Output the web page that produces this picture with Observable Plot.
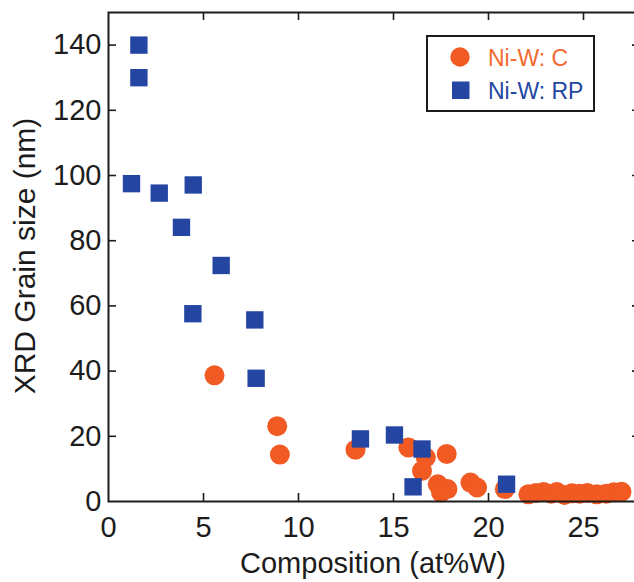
<!DOCTYPE html>
<html>
<head>
<meta charset="utf-8">
<script src="https://cdn.jsdelivr.net/npm/d3@7"></script>
<script src="https://cdn.jsdelivr.net/npm/@observablehq/plot@0.6"></script>
<style>
  html, body { margin: 0; padding: 0; background: #fff; }
  #chart svg { display: block; }
</style>
</head>
<body>
<div id="chart"></div>
<script>
// Series "Ni-W: C" (orange circles)
const cX = [5.58, 8.88, 9.02, 13.0, 15.78, 16.7, 16.5, 17.8, 17.33, 17.84, 17.5, 19.05, 19.4, 20.86, 22.1, 22.5, 22.9, 23.3, 23.6, 24.0, 24.4, 24.8, 25.2, 25.7, 26.2, 26.6, 27.0];
const cY = [38.7, 23.1, 14.4, 15.9, 16.6, 13.5, 9.4, 14.6, 5.3, 3.8, 2.8, 5.8, 4.3, 3.8, 2.2, 2.6, 2.9, 2.4, 2.9, 2.0, 2.5, 2.4, 2.6, 2.2, 2.4, 2.8, 3.0];
// Series "Ni-W: RP" (blue squares)
const rpX = [1.6, 1.6, 1.21, 2.67, 4.46, 3.84, 5.93, 4.44, 7.7, 7.77, 13.26, 15.05, 16.5, 16.03, 20.95];
const rpY = [140, 130, 97.5, 94.6, 97.1, 84.1, 72.4, 57.6, 55.7, 37.8, 19.2, 20.4, 16.1, 4.5, 5.3];

const seriesNames = ["Ni-W: C", "Ni-W: RP"];
const xTicks = [0, 5, 10, 15, 20, 25];
const yTicks = [0, 20, 40, 60, 80, 100, 120, 140];
const xTitle = "Composition (at%W)";
const yTitle = "XRD Grain size (nm)";

const ORANGE = "#f15a22";
const BLUE = "#2446a2";
const INK = "#1c1c1c";
const FONT = "'Liberation Sans', Arial, Helvetica, sans-serif";

const cData = cX.map((x, i) => ({x, y: cY[i]}));
const rpData = rpX.map((x, i) => ({x, y: rpY[i]}));

const W = 634, H = 582;
const mL = 108, mT = 12, mB = 81, mR = -6;
const frameW = W - mL - mR, frameH = H - mT - mB;
const tickLen = 8;

const plot = Plot.plot({
  width: W,
  height: H,
  marginLeft: mL,
  marginRight: mR,
  marginTop: mT,
  marginBottom: mB,
  style: {fontFamily: FONT, fontSize: "29px", color: INK, background: "#fff"},
  x: {domain: [0, 28]},
  y: {domain: [0, 150]},
  marks: [
    Plot.axisX({anchor: "bottom", ticks: xTicks, tickSize: 0, tickPadding: 15, label: null, fontSize: 29, tickFormat: d => String(d)}),
    Plot.axisY({anchor: "left", ticks: yTicks, tickSize: 0, tickPadding: 7, label: null, fontSize: 29, tickFormat: d => String(d)}),
    // inward tick marks on all four sides
    Plot.tickX(xTicks.slice(1), {x: d => d, stroke: INK, strokeWidth: 1.6, insetTop: frameH - tickLen}),
    Plot.tickX(xTicks.slice(1), {x: d => d, stroke: INK, strokeWidth: 1.6, insetBottom: frameH - tickLen}),
    Plot.tickY(yTicks.slice(1), {y: d => d, stroke: INK, strokeWidth: 1.6, insetRight: frameW - tickLen}),
    Plot.tickY(yTicks.slice(1), {y: d => d, stroke: INK, strokeWidth: 1.6, insetLeft: frameW - tickLen}),
    Plot.dot(cData, {x: "x", y: "y", r: 10, fill: ORANGE, symbol: "circle"}),
    Plot.dot(rpData, {x: "x", y: "y", r: 9.8, fill: BLUE, symbol: "square"}),
    Plot.frame({stroke: INK, strokeWidth: 2})
  ]
});

const svg = d3.select(plot);
svg.attr("overflow", "hidden");

// axis titles
svg.append("text")
  .attr("x", 373).attr("y", 573)
  .attr("text-anchor", "middle")
  .attr("font-family", FONT)
  .attr("font-size", 29).attr("fill", INK)
  .text(xTitle);
svg.append("text")
  .attr("transform", "translate(35,256) rotate(-90)")
  .attr("text-anchor", "middle")
  .attr("font-family", FONT)
  .attr("font-size", 30).attr("fill", INK)
  .text(yTitle);

// legend
const lg = svg.append("g").attr("font-family", FONT);
lg.append("rect").attr("x", 427).attr("y", 36).attr("width", 167).attr("height", 75)
  .attr("fill", "#fff").attr("stroke", INK).attr("stroke-width", 2);
lg.append("circle").attr("cx", 460).attr("cy", 57).attr("r", 9.7).attr("fill", ORANGE);
lg.append("rect").attr("x", 452).attr("y", 81.5).attr("width", 17.5).attr("height", 17.5).attr("fill", BLUE);
lg.append("text").attr("x", 488).attr("y", 65.5).attr("text-anchor", "start")
  .attr("font-size", 23).attr("fill", "#f26a30").text(seriesNames[0]);
lg.append("text").attr("x", 488).attr("y", 99).attr("text-anchor", "start")
  .attr("font-size", 23).attr("fill", BLUE).text(seriesNames[1]);

document.getElementById("chart").appendChild(plot);
</script>
</body>
</html>
